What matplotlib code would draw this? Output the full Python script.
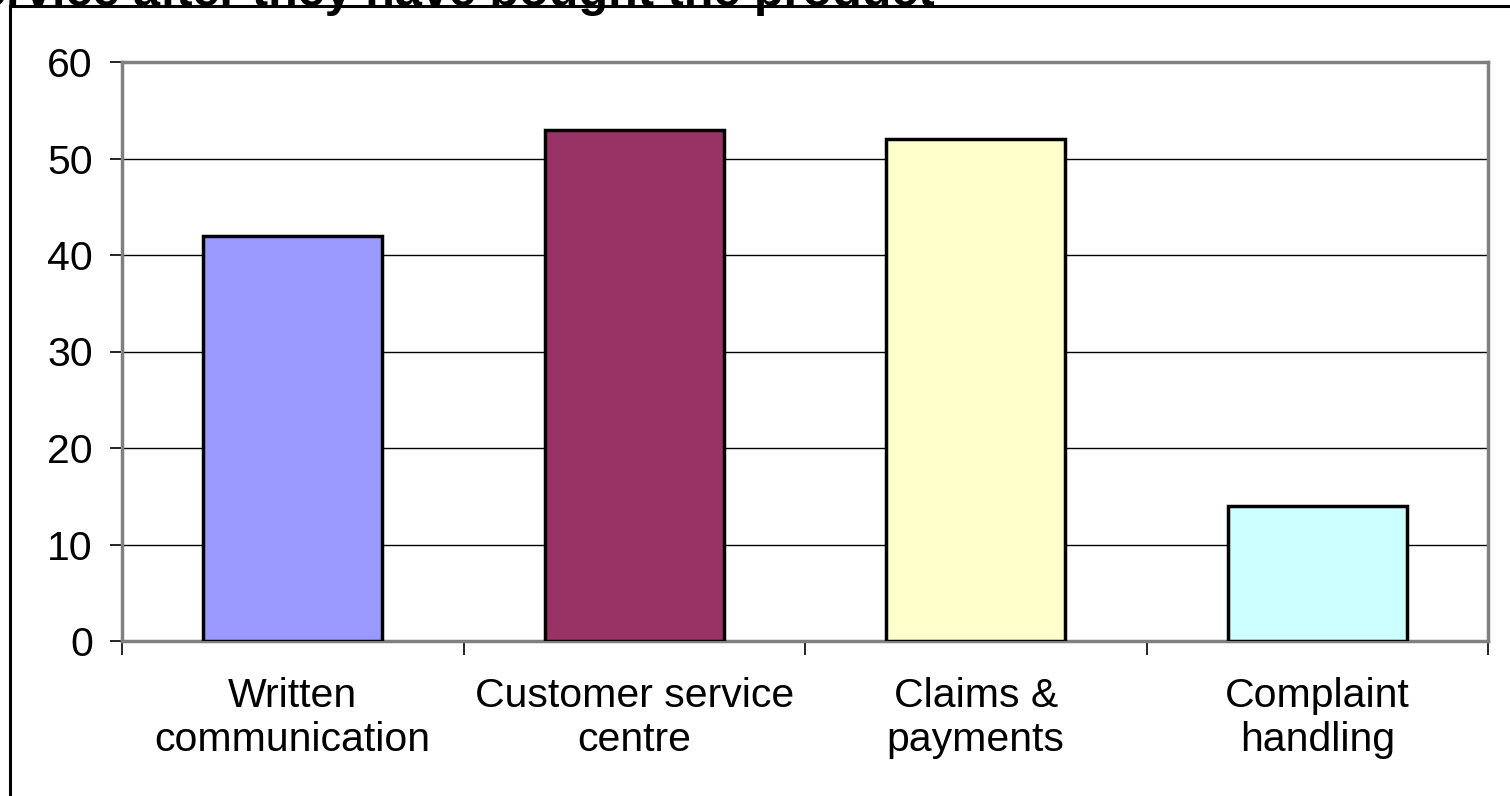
import matplotlib.pyplot as plt
from matplotlib.lines import Line2D

categories = ["Written\ncommunication", "Customer service\ncentre", "Claims &\npayments", "Complaint\nhandling"]
values = [42, 53, 52, 14]
colors = ["#9999FF", "#993366", "#FFFFCC", "#CCFFFF"]
yticks = [0, 10, 20, 30, 40, 50, 60]
title = "Customer satisfaction with the service after they have bought the product"

plt.rcParams["font.family"] = ["Liberation Sans", "DejaVu Sans"]

W, H = 1510, 796
fig = plt.figure(figsize=(W / 100, H / 100), dpi=100)
ax = fig.add_axes([122 / W, 1 - 641 / H, (1488 - 122) / W, (641 - 62) / H])

x = range(len(categories))
ax.bar(x, values, width=0.525, color=colors, edgecolor="black", linewidth=2.5, zorder=3)

ax.set_xlim(-0.5, len(categories) - 0.5)
ax.set_ylim(0, 60)
ax.set_yticks(yticks)
ax.set_yticklabels([str(t) for t in yticks], fontsize=29.5)
ax.yaxis.grid(True, color="black", linewidth=1.0, zorder=1)
ax.tick_params(axis="y", length=9, width=1.2, color="black", pad=12)

# category labels centred, tick marks on category boundaries
ax.set_xticks([i - 0.5 for i in range(len(categories) + 1)])
ax.set_xticklabels([])
ax.tick_params(axis="x", length=10, width=1.2, color="black")
for i, lab in enumerate(categories):
    ax.text(i, -3.7, lab, ha="center", va="top", fontsize=29.5, linespacing=1.22)

for s in ax.spines.values():
    s.set_color("#808080")
    s.set_linewidth(2.5)

# outer frame and clipped heading
fig.add_artist(Line2D([9.5 / W, 9.5 / W], [0, 1 - 6 / H], color="black", linewidth=2.2))
fig.add_artist(Line2D([9.5 / W, 1], [1 - 6 / H, 1 - 6 / H], color="black", linewidth=2.2))
fig.text(935 / W, 1 - 6 / H, title, ha="right", va="baseline", fontsize=35, fontweight="bold")

fig.savefig("out.png", dpi=100)
